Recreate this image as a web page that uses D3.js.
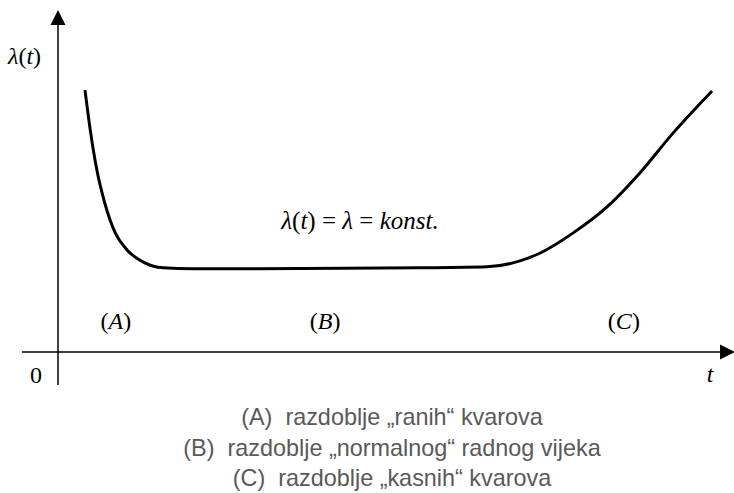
<!DOCTYPE html>
<html>
<head>
<meta charset="utf-8">
<script src="https://cdn.jsdelivr.net/npm/d3@7"></script>
<style>
  body { margin: 0; background: #fff; }
  .serif { font-family: "Liberation Serif", "Times New Roman", serif; font-size: 24px; fill: #000; }
  .legend { font-family: "Liberation Sans", Arial, sans-serif; font-size: 23.4px; fill: #595959; }
</style>
</head>
<body>
<svg id="chart" width="734" height="493"></svg>
<script>
// bathtub curve: time t (arbitrary units) vs failure rate lambda(t)
var tValues      = [4.1, 4.9, 5.9, 7.1, 8.7, 10.5, 12.9, 16.0, 20.5, 36.8, 55.0, 65.2, 70.2, 73.3, 78.3, 83.4, 88.4, 93.5, 99.4];
var lambdaValues = [79.4, 67.3, 55.2, 45.2, 36.1, 30.9, 27.3, 25.5, 25.2, 25.3, 25.5, 25.8, 27.6, 30.0, 36.1, 43.9, 54.2, 66.4, 79.1];

// period labels and where they sit on the t axis
var periodLabels = ["A", "B", "C"];
var periodT      = [8.8, 40.6, 86.0];

var legendLines = [
  "(A)  razdoblje \u201Eranih\u201C kvarova",
  "(B)  razdoblje \u201Enormalnog\u201C radnog vijeka",
  "(C)  razdoblje \u201Ekasnih\u201C kvarova"
];

var svg = d3.select("#chart");

var xScale = d3.scaleLinear().domain([0, 100]).range([58, 716]);
var yScale = d3.scaleLinear().domain([0, 100]).range([352, 22]);

var x0 = xScale(0), y0 = yScale(0);

// axes (plain lines with arrow heads)
svg.append("line")
   .attr("x1", 22).attr("y1", y0)
   .attr("x2", 722).attr("y2", y0)
   .attr("stroke", "#000").attr("stroke-width", 1.5);

svg.append("line")
   .attr("x1", x0).attr("y1", 385)
   .attr("x2", x0).attr("y2", 24)
   .attr("stroke", "#000").attr("stroke-width", 1.5);

// arrow heads
svg.append("path")
   .attr("d", "M" + (x0 - 7.5) + "," + 25 + " L" + x0 + "," + 10 + " L" + (x0 + 7.5) + "," + 25 + " Z")
   .attr("fill", "#000");
svg.append("path")
   .attr("d", "M" + 720 + "," + (y0 - 7.5) + " L" + 735 + "," + y0 + " L" + 720 + "," + (y0 + 7.5) + " Z")
   .attr("fill", "#000");

// the curve
var data = tValues.map(function(t, i) { return {t: t, l: lambdaValues[i]}; });
var line = d3.line()
    .x(function(d) { return xScale(d.t); })
    .y(function(d) { return yScale(d.l); })
    .curve(d3.curveMonotoneX);

svg.append("path")
   .datum(data)
   .attr("d", line)
   .attr("fill", "none")
   .attr("stroke", "#000")
   .attr("stroke-width", 3);

// axis labels
var yLab = svg.append("text").attr("class", "serif")
   .attr("x", 8).attr("y", 63.5);
yLab.append("tspan").style("font-style", "italic").text("\u03BB");
yLab.append("tspan").text("(");
yLab.append("tspan").style("font-style", "italic").text("t");
yLab.append("tspan").text(")");

svg.append("text").attr("class", "serif")
   .attr("x", 36).attr("y", 383)
   .attr("text-anchor", "middle")
   .text("0");

svg.append("text").attr("class", "serif")
   .attr("x", 710).attr("y", 382)
   .attr("text-anchor", "middle")
   .style("font-style", "italic")
   .text("t");

// formula
var f = svg.append("text").attr("class", "serif")
   .attr("x", 360).attr("y", 228.5)
   .attr("text-anchor", "middle")
   .style("font-size", "25px");
f.append("tspan").style("font-style", "italic").text("\u03BB");
f.append("tspan").text("(");
f.append("tspan").style("font-style", "italic").text("t");
f.append("tspan").text(") = ");
f.append("tspan").style("font-style", "italic").text("\u03BB");
f.append("tspan").text(" = ");
f.append("tspan").style("font-style", "italic").text("konst.");

// period labels
periodLabels.forEach(function(p, i) {
  var tx = svg.append("text").attr("class", "serif")
     .attr("x", xScale(periodT[i])).attr("y", 329)
     .attr("text-anchor", "middle");
  tx.append("tspan").text("(");
  tx.append("tspan").style("font-style", "italic").text(p);
  tx.append("tspan").text(")");
});

// legend
svg.selectAll(".legend")
   .data(legendLines)
   .enter()
   .append("text")
   .attr("class", "legend")
   .attr("x", 392)
   .attr("y", function(d, i) { return 425 + i * 30.5; })
   .attr("text-anchor", "middle")
   .style("white-space", "pre")
   .text(function(d) { return d; });
</script>
</body>
</html>
